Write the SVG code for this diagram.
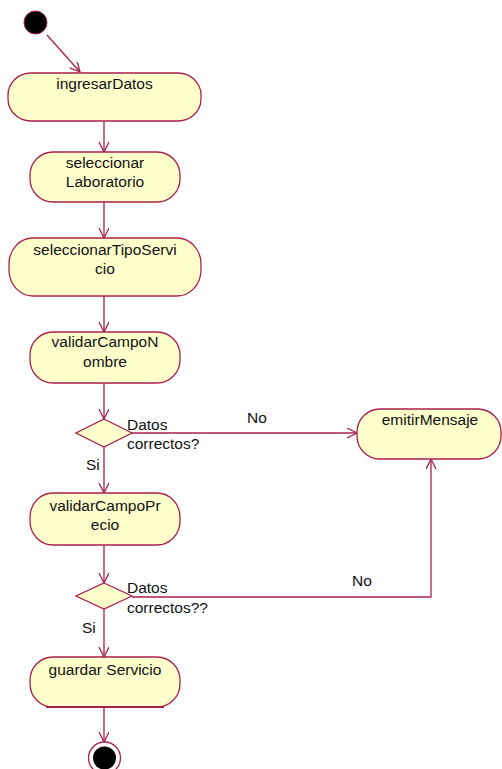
<svg xmlns="http://www.w3.org/2000/svg" width="502" height="769" viewBox="0 0 502 769">
  <style>
    .act { fill: #ffffcc; stroke: #a8204e; stroke-width: 1.3; }
    .dec { fill: #ffffcc; stroke: #a8204e; stroke-width: 1.3; }
    .lbl { font-family: "Liberation Sans", Arial, sans-serif; font-size: 15.5px; fill: #111; }
    .mid { text-anchor: middle; }
    .edge { fill: none; stroke: #a8204e; stroke-width: 1.3; marker-end: url(#arrow); }
  </style>
  <defs>
    <marker id="arrow" markerWidth="12" markerHeight="12" refX="11" refY="5" orient="auto" markerUnits="userSpaceOnUse">
      <path d="M1,0 L11,5 L1,10" fill="none" stroke="#a8204e" stroke-width="1.3"/>
    </marker>
  </defs>
  <rect width="502" height="769" fill="#ffffff"/>

  <!-- connectors -->
  <g id="connectors">
    <line class="edge" x1="47" y1="35" x2="80" y2="72"/>
    <line class="edge" x1="104" y1="121" x2="104" y2="152"/>
    <line class="edge" x1="104" y1="202" x2="104" y2="238"/>
    <line class="edge" x1="104" y1="296" x2="104" y2="332"/>
    <line class="edge" x1="104" y1="383" x2="104" y2="419"/>
    <line class="edge" x1="132" y1="433" x2="357" y2="433"/>
    <line class="edge" x1="104" y1="447" x2="104" y2="493"/>
    <line class="edge" x1="104" y1="545" x2="104" y2="583"/>
    <polyline class="edge" points="132,597 431,597 431,459"/>
    <line class="edge" x1="104" y1="609" x2="104" y2="657"/>
    <line class="edge" x1="104" y1="707" x2="104" y2="742"/>
    <text class="lbl" x="247" y="423">No</text>
    <text class="lbl" x="86" y="470">Si</text>
    <text class="lbl" x="352" y="586">No</text>
    <text class="lbl" x="82" y="633">Si</text>
  </g>

  <!-- start -->
  <g id="start">
    <circle cx="35.5" cy="22.5" r="11.5" fill="#000" stroke="#a8204e" stroke-width="1"/>
  </g>

  <g id="ingresarDatos">
    <rect class="act" x="8" y="73" width="193" height="48" rx="23" ry="22"/>
    <text class="lbl mid" x="104.5" y="89">ingresarDatos</text>
  </g>

  <g id="seleccionarLaboratorio">
    <rect class="act" x="30" y="152" width="150" height="50" rx="23" ry="23"/>
    <text class="lbl mid" x="105" y="168">seleccionar</text>
    <text class="lbl mid" x="105" y="187">Laboratorio</text>
  </g>

  <g id="seleccionarTipoServicio">
    <rect class="act" x="9" y="238" width="192" height="58" rx="24" ry="26"/>
    <text class="lbl mid" x="105" y="255">seleccionarTipoServi</text>
    <text class="lbl mid" x="105" y="274">cio</text>
  </g>

  <g id="validarCampoNombre">
    <rect class="act" x="30" y="332" width="150" height="51" rx="23" ry="23"/>
    <text class="lbl mid" x="105" y="347">validarCampoN</text>
    <text class="lbl mid" x="105" y="367">ombre</text>
  </g>

  <g id="decision1">
    <polygon class="dec" points="104,419 132,433 104,447 76,433"/>
    <text class="lbl" x="127" y="430">Datos</text>
    <text class="lbl" x="127" y="449">correctos?</text>
  </g>

  <g id="emitirMensaje">
    <rect class="act" x="357" y="409" width="144" height="50" rx="23" ry="23"/>
    <text class="lbl mid" x="430" y="425">emitirMensaje</text>
  </g>

  <g id="validarCampoPrecio">
    <rect class="act" x="30" y="493" width="150" height="52" rx="23" ry="24"/>
    <text class="lbl mid" x="105" y="511">validarCampoPr</text>
    <text class="lbl mid" x="105" y="530">ecio</text>
  </g>

  <g id="decision2">
    <polygon class="dec" points="104,583 132,596 104,609 76,596"/>
    <text class="lbl" x="127" y="593">Datos</text>
    <text class="lbl" x="127" y="613">correctos??</text>
  </g>

  <g id="guardarServicio">
    <rect class="act" x="30" y="657" width="150" height="50" rx="23" ry="23"/>
    <line x1="46" y1="707" x2="164" y2="707" stroke="#a8204e" stroke-width="2.2"/>
    <text class="lbl mid" x="105" y="675">guardar Servicio</text>
  </g>

  <!-- end -->
  <g id="end">
    <circle cx="104.5" cy="758" r="16" fill="#fff" stroke="#a8204e" stroke-width="1.3"/>
    <circle cx="104.5" cy="758" r="11.5" fill="#000"/>
  </g>
</svg>
